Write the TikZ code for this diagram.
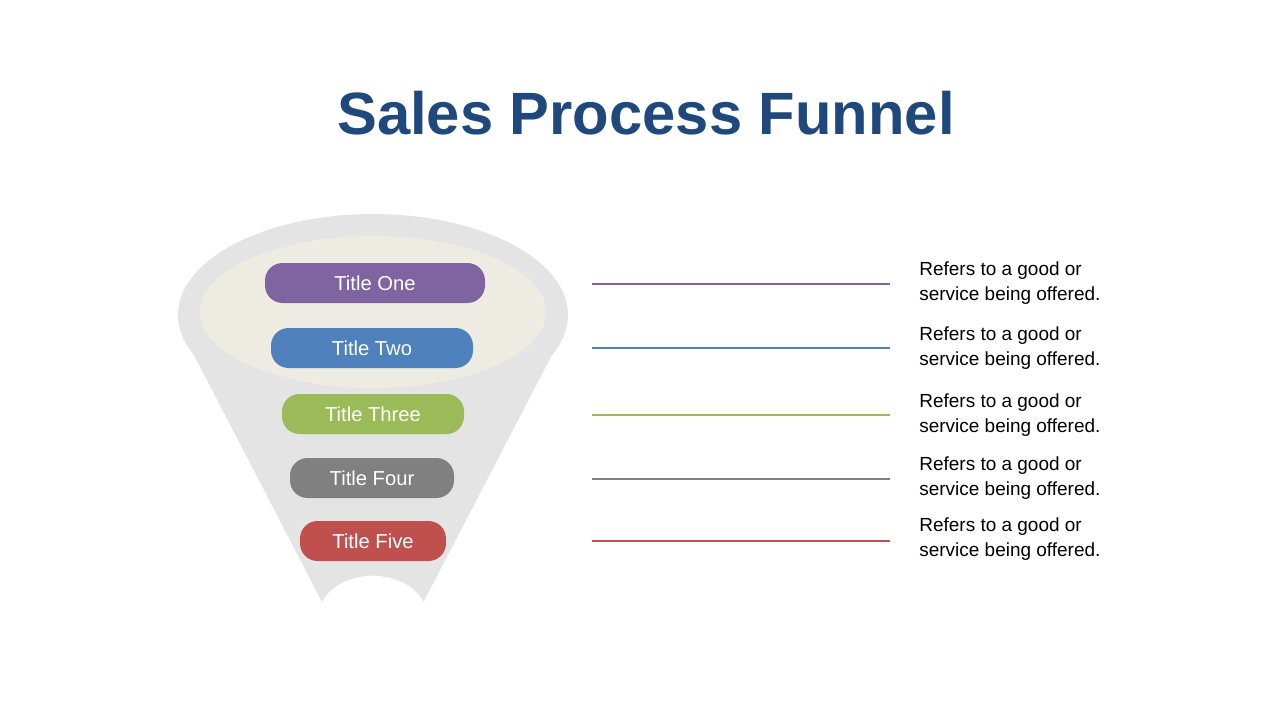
\documentclass[tikz,border=0pt]{standalone}
\usepackage{fontspec}
\setmainfont{Liberation Sans}
\usetikzlibrary{positioning,calc}
\definecolor{funnelgray}{HTML}{E4E4E4}
\definecolor{funnelbeige}{HTML}{EEEBE2}
\definecolor{cone}{HTML}{1F497D}
\definecolor{cpurple}{HTML}{8064A2}
\definecolor{cblue}{HTML}{4F81BD}
\definecolor{cgreen}{HTML}{9BBB59}
\definecolor{cgray}{HTML}{808080}
\definecolor{cred}{HTML}{C0504D}
\begin{document}
\begin{tikzpicture}[
    x=0.02cm, y=-0.02cm,
    pill/.style={rectangle, rounded corners=10pt, minimum height=0.8cm, text=white, font=\fontsize{11.5}{13}\selectfont, inner sep=0pt},
    leader/.style={line width=1.6pt},
    desc/.style={anchor=west, align=left, font=\fontsize{10.8}{14}\selectfont, inner sep=0pt}
]
\useasboundingbox (0,0) rectangle (1280,720);

% Title
\node[font=\fontsize{34}{40}\selectfont\bfseries, text=cone] (title) at (646,113) {Sales Process Funnel};

% Funnel body
\fill[funnelgray] (373,315) ellipse [x radius=195, y radius=101];
\fill[funnelgray] (181,330) -- (322,602) arc[start angle=200, end angle=340, x radius=54, y radius=40] -- (565,330) -- cycle;
\fill[funnelbeige] (373,312) ellipse [x radius=173, y radius=76];

% Stages
\node[pill, fill=cpurple, minimum width=220*0.02cm] (one) at (375,283) {Title One};
\node[pill, fill=cblue, minimum width=202*0.02cm] (two) at (372,348) {Title Two};
\node[pill, fill=cgreen, minimum width=182*0.02cm] (three) at (373,414) {Title Three};
\node[pill, fill=cgray, minimum width=164*0.02cm] (four) at (372,478) {Title Four};
\node[pill, fill=cred, minimum width=146*0.02cm] (five) at (373,541) {Title Five};

% Leader lines
\coordinate (a1) at (592,284); \coordinate (b1) at (890,284);
\coordinate (a2) at (592,348); \coordinate (b2) at (890,348);
\coordinate (a3) at (592,415); \coordinate (b3) at (890,415);
\coordinate (a4) at (592,479); \coordinate (b4) at (890,479);
\coordinate (a5) at (592,541); \coordinate (b5) at (890,541);
\draw[leader, cpurple] (a1) -- (b1);
\draw[leader, cblue] (a2) -- (b2);
\draw[leader, cgreen] (a3) -- (b3);
\draw[leader, cgray] (a4) -- (b4);
\draw[leader, cred] (a5) -- (b5);

% Descriptions
\node[desc] (d1) at (919,283) {Refers to a good or\\service being offered.};
\node[desc] (d2) at (919,348) {Refers to a good or\\service being offered.};
\node[desc] (d3) at (919,415) {Refers to a good or\\service being offered.};
\node[desc] (d4) at (919,478) {Refers to a good or\\service being offered.};
\node[desc] (d5) at (919,539) {Refers to a good or\\service being offered.};
\end{tikzpicture}
\end{document}
